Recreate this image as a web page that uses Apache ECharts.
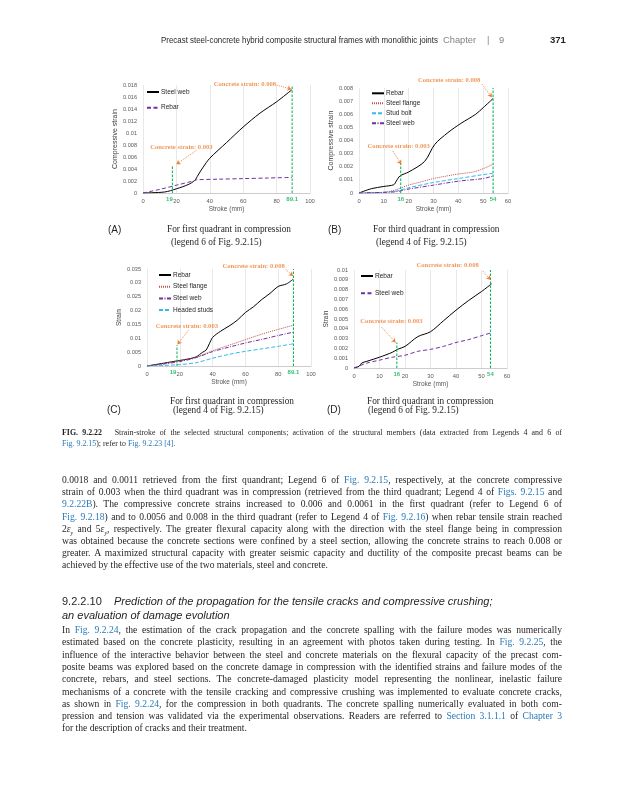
<!DOCTYPE html>
<html><head><meta charset="utf-8">
<script src="https://cdn.jsdelivr.net/npm/echarts/dist/echarts.min.js"></script>
<style>
html,body{margin:0;padding:0;background:#fff;width:625px;height:800px;overflow:hidden;}
#chart{position:absolute;left:0;top:0;width:625px;height:800px;}
.t{position:absolute;white-space:nowrap;color:#231f20;line-height:12px;}
.serif{font-family:"Liberation Serif","Times New Roman",serif;}
.sans{font-family:"Liberation Sans",Arial,sans-serif;}
.ln{position:absolute;left:62px;width:500px;font-family:"Liberation Serif","Times New Roman",serif;font-size:9.6px;line-height:12px;height:12px;text-align:justify;text-align-last:justify;color:#231f20;}
.ln.last{text-align-last:left;}
.cap{font-size:7.9px;}
.lk{color:#2a7ab8;}
</style></head>
<body>
<div id="chart"></div>

<div class="t sans" style="left:161px;top:34px;font-size:9px;transform:scaleX(0.88);transform-origin:left center;">Precast steel-concrete hybrid composite structural frames with monolithic joints</div>
<div class="t sans" style="left:443px;top:34px;font-size:9.3px;color:#808285;">Chapter</div>
<div class="t sans" style="left:487px;top:34px;font-size:9.3px;color:#808285;">|</div>
<div class="t sans" style="left:499px;top:34px;font-size:9.3px;color:#808285;">9</div>
<div class="t sans" style="left:550px;top:34px;font-size:9.5px;font-weight:bold;">371</div>

<div class="t sans" style="left:108px;top:224px;font-size:10px;">(A)</div>
<div class="t serif" style="left:167px;top:223px;font-size:9.3px;">For first quadrant in compression</div>
<div class="t serif" style="left:171px;top:236px;font-size:9.3px;">(legend 6 of Fig. 9.2.15)</div>
<div class="t sans" style="left:328px;top:224px;font-size:10px;">(B)</div>
<div class="t serif" style="left:373px;top:223px;font-size:9.3px;">For third quadrant in compression</div>
<div class="t serif" style="left:376px;top:236px;font-size:9.3px;">(legend 4 of Fig. 9.2.15)</div>

<div class="t serif" style="left:170px;top:395px;font-size:9.3px;">For first quadrant in compression</div>
<div class="t sans" style="left:107px;top:404px;font-size:10px;">(C)</div>
<div class="t serif" style="left:173px;top:404px;font-size:9.3px;">(legend 4 of Fig. 9.2.15)</div>
<div class="t serif" style="left:367px;top:395px;font-size:9.3px;">For third quadrant in compression</div>
<div class="t sans" style="left:327px;top:404px;font-size:10px;">(D)</div>
<div class="t serif" style="left:368px;top:404px;font-size:9.3px;">(legend 6 of Fig. 9.2.15)</div>

<div class="ln cap" style="top:427px;"><b>FIG. 9.2.22</b>&nbsp;&nbsp; Strain-stroke of the selected structural components; activation of the structural members (data extracted from Legends 4 and 6 of</div>
<div class="ln cap last" style="top:438px;"><span class="lk">Fig. 9.2.15</span>); refer to <span class="lk">Fig. 9.2.23</span> <span class="lk">[4]</span>.</div>

<div class="ln" style="top:474px;">0.0018 and 0.0011 retrieved from the first quandrant; Legend 6 of <span class="lk">Fig. 9.2.15</span>, respectively, at the concrete compressive</div>
<div class="ln" style="top:486.2px;">strain of 0.003 when the third quadrant was in compression (retrieved from the third quadrant; Legend 4 of <span class="lk">Figs. 9.2.15</span> and</div>
<div class="ln" style="top:498.4px;"><span class="lk">9.2.22B</span>). The compressive concrete strains increased to 0.006 and 0.0061 in the first quadrant (refer to Legend 6 of</div>
<div class="ln" style="top:510.6px;"><span class="lk">Fig. 9.2.18</span>) and to 0.0056 and 0.008 in the third quadrant (refer to Legend 4 of <span class="lk">Fig. 9.2.16</span>) when rebar tensile strain reached</div>
<div class="ln" style="top:522.8px;">2<i>ε</i><sub style="font-size:6px;line-height:0"><i>y</i></sub> and 5<i>ε</i><sub style="font-size:6px;line-height:0"><i>y</i></sub>, respectively. The greater flexural capacity along with the direction with the steel flange being in compression</div>
<div class="ln" style="top:535px;">was obtained because the concrete sections were confined by a steel section, allowing the concrete strains to reach 0.008 or</div>
<div class="ln" style="top:547.2px;">greater. A maximized structural capacity with greater seismic capacity and ductility of the composite precast beams can be</div>
<div class="ln last" style="top:559.4px;">achieved by the effective use of the two materials, steel and concrete.</div>

<div class="t sans" style="left:62px;top:595px;font-size:11px;"><span>9.2.2.10</span>&nbsp;&nbsp;&nbsp; <i>Prediction of the propagation for the tensile cracks and compressive crushing;</i></div>
<div class="t sans" style="left:62px;top:609px;font-size:11px;"><i>an evaluation of damage evolution</i></div>

<div class="ln" style="top:624px;">In <span class="lk">Fig. 9.2.24</span>, the estimation of the crack propagation and the concrete spalling with the failure modes was numerically</div>
<div class="ln" style="top:636.3px;">estimated based on the concrete plasticity, resulting in an agreement with photos taken during testing. In <span class="lk">Fig. 9.2.25</span>, the</div>
<div class="ln" style="top:648.6px;">influence of the interactive behavior between the steel and concrete materials on the flexural capacity of the precast com-</div>
<div class="ln" style="top:660.9px;">posite beams was explored based on the concrete damage in compression with the identified strains and failure modes of the</div>
<div class="ln" style="top:673.2px;">concrete, rebars, and steel sections. The concrete-damaged plasticity model representing the nonlinear, inelastic failure</div>
<div class="ln" style="top:685.5px;">mechanisms of a concrete with the tensile cracking and compressive crushing was implemented to evaluate concrete cracks,</div>
<div class="ln" style="top:697.8px;">as shown in <span class="lk">Fig. 9.2.24</span>, for the compression in both quadrants. The concrete spalling numerically evaluated in both com-</div>
<div class="ln" style="top:710.1px;">pression and tension was validated via the experimental observations. Readers are referred to <span class="lk">Section 3.1.1.1</span> of <span class="lk">Chapter 3</span></div>
<div class="ln last" style="top:722.4px;">for the description of cracks and their treatment.</div>

<script>
// ================= DATA =================
// Panel A: first quadrant in compression (legend 6)
const aSteelWeb = [[0,0],[13,0.00017],[20,0.0007],[27,0.0014],[31,0.0021],[33,0.003],[36,0.0043],[40,0.0058],[50,0.0084],[60,0.011],[70,0.0133],[80,0.0152],[89.1,0.0172]];
const aRebar    = [[0,0],[10,0.0006],[20,0.0013],[30,0.002],[32,0.0022],[45,0.0023],[60,0.0024],[75,0.0025],[89.1,0.0026]];
// Panel B: third quadrant in compression (legend 4)
const bRebar    = [[0,0],[5,0.00033],[10,0.0005],[14,0.00063],[15,0.0009],[16.5,0.0013],[20,0.0016],[26.4,0.0024],[30.5,0.0037],[35.8,0.0046],[41,0.0053],[47,0.006],[50,0.0065],[54,0.0072]];
const bFlange   = [[0,0],[10,0.00005],[14,0.0002],[17,0.0004],[20,0.0006],[26,0.0009],[30,0.0011],[40,0.00145],[46,0.0016],[50,0.00185],[54,0.0022]];
const bStudBolt = [[0,0],[10,0.00005],[15,0.00015],[20,0.0004],[30,0.0008],[40,0.0011],[50,0.0014],[54,0.0015]];
const bSteelWeb = [[0,0],[10,0.00005],[15,0.0001],[20,0.0003],[30,0.0006],[40,0.0009],[50,0.0011],[54,0.0013]];
// Panel C: first quadrant in compression (legend 4)
const cRebar    = [[0,0],[10,0.001],[20,0.002],[25,0.0025],[30,0.0033],[34,0.005],[36,0.0057],[38,0.008],[40,0.0103],[45,0.0126],[50,0.0144],[55,0.0165],[60,0.0193],[65,0.0214],[70,0.024],[75,0.0262],[80,0.0287],[85,0.0296],[89.1,0.0313]];
const cFlange   = [[0,0],[10,0.0008],[20,0.002],[30,0.0032],[40,0.0055],[50,0.0075],[60,0.0095],[70,0.0115],[80,0.0132],[89.1,0.0147]];
const cSteelWeb = [[0,0],[10,0.0007],[20,0.0016],[30,0.003],[40,0.0052],[50,0.0068],[60,0.0083],[70,0.0096],[80,0.011],[89.1,0.0122]];
const cStuds    = [[0,0],[10,0.0002],[20,0.0005],[30,0.0012],[40,0.0028],[50,0.0042],[60,0.0053],[70,0.0062],[80,0.0071],[89.1,0.008]];
// Panel D: third quadrant in compression (legend 6)
const dRebar    = [[0,0],[2,0.00017],[3,0.0005],[5,0.00068],[10,0.0011],[15,0.0016],[17,0.0019],[20,0.0022],[25,0.0032],[30,0.0037],[35,0.0048],[40,0.0059],[45,0.0069],[50,0.0078],[54,0.0086]];
const dSteelWeb = [[0,0],[5,0.0005],[10,0.0008],[15,0.0011],[20,0.0013],[25,0.0017],[30,0.0019],[35,0.0022],[40,0.0026],[45,0.0029],[50,0.0033],[54,0.0036]];

// Axis ranges / ticks
const xMax = [100, 60, 100, 60];
const xStep = [20, 10, 20, 10];
const yMax = [0.018, 0.008, 0.035, 0.01];
const yStep = [0.002, 0.001, 0.005, 0.001];
const yTitles = ['Compressive strain', 'Compressive strain', 'Strain', 'Strain'];
const xTitle = 'Stroke (mm)';

// Stroke at concrete strain 0.003 / 0.008 (green marker lines)
const markX    = [[17.6, 89.3], [16.8, 54], [18.3, 89.3], [16.8, 53.5]];
const markTop  = [[0.0046, 0.018], [0.0023, 0.008], [0.0075, 0.035], [0.0026, 0.01]];
const markText = [['19', '89.1'], ['16', '54'], ['19', '89.1'], ['16', '54']];

// Annotation texts (centre points) and arrows
const annoText = ['Concrete strain: 0.003', 'Concrete strain: 0.008'];
const annoPos  = [[[23, 0.0077], [61, 0.0181]], [[16, 0.00355], [36.3, 0.00856]], [[24.3, 0.0144], [65, 0.0361]], [[14.7, 0.00474], [36.7, 0.0105]]];
const annoArrow = [
  [[[32, 0.0071], [20, 0.0048]], [[80, 0.018], [88.8, 0.0173]]],
  [[[13.6, 0.0032], [17, 0.0022]], [[49.5, 0.0083], [53.5, 0.0073]]],
  [[[25.3, 0.0129], [18.6, 0.0078]], [[84.5, 0.0349], [89, 0.0325]]],
  [[[10.7, 0.0042], [16.3, 0.0026]], [[50.5, 0.0099], [53.5, 0.009]]]
];

// ================= CHART =================
const FONT = '"Liberation Sans", Arial, sans-serif';
const SERIF = '"Liberation Serif", "Times New Roman", serif';
const GREEN = '#00B050', ORANGE = '#ED7D31';
const grids = [
  {left: 143, top: 85, width: 167, height: 108},
  {left: 359, top: 88, width: 149, height: 105},
  {left: 147, top: 269, width: 164, height: 97},
  {left: 354, top: 270, width: 153, height: 98}
];
const nameGaps = [24, 24, 22, 24];
const markLabelShift = [[-3, 0], [0, 0], [-4, 0], [0, 0]];

const styles = {
  black:   {color: '#000000', type: 'solid', width: 1},
  purpleD: {color: '#7030A0', type: [4, 2.5], width: 1},
  red:     {color: '#C0504D', type: [1, 1], width: 1},
  cyan:    {color: '#33B8F0', type: [4, 2], width: 1},
  purpleDD:{color: '#7030A0', type: [4, 1.5, 1, 1.5], width: 1}
};

const panels = [
  [['Steel web', aSteelWeb, 'black'], ['Rebar', aRebar, 'purpleD']],
  [['Rebar', bRebar, 'black'], ['Steel flange', bFlange, 'red'], ['Stud bolt', bStudBolt, 'cyan'], ['Steel web', bSteelWeb, 'purpleDD']],
  [['Rebar', cRebar, 'black'], ['Steel flange', cFlange, 'red'], ['Steel web', cSteelWeb, 'purpleDD'], ['Headed studs', cStuds, 'cyan']],
  [['Rebar', dRebar, 'black'], ['Steel web', dSteelWeb, 'purpleD']]
];
const legendPos = [
  {left: 146, top: 88.5, gap: 8.7},
  {left: 371, top: 89.8, gap: 3},
  {left: 158, top: 271.5, gap: 4.7},
  {left: 360, top: 272.5, gap: 10.3}
];

const option = {
  animation: false,
  backgroundColor: 'transparent',
  grid: grids,
  xAxis: [], yAxis: [], series: [], legend: []
};

grids.forEach((g, i) => {
  option.xAxis.push({
    type: 'value', gridIndex: i, min: 0, max: xMax[i], interval: xStep[i],
    name: xTitle, nameLocation: 'middle', nameGap: 13,
    nameTextStyle: {fontFamily: FONT, fontSize: 6.5, color: '#595959'},
    axisLine: {show: true, lineStyle: {color: '#bfbfbf', width: 0.8}},
    axisTick: {show: false},
    axisLabel: {fontFamily: FONT, fontSize: 5.8, color: '#595959', margin: 5},
    splitLine: {show: true, lineStyle: {color: '#d9d9d9', width: 0.6}}
  });
  option.yAxis.push({
    type: 'value', gridIndex: i, min: 0, max: yMax[i], interval: yStep[i],
    name: yTitles[i], nameLocation: 'middle', nameGap: nameGaps[i],
    nameTextStyle: {fontFamily: FONT, fontSize: i < 2 ? 7 : 6.5, color: '#404040'},
    axisLine: {show: false}, axisTick: {show: false},
    axisLabel: {fontFamily: FONT, fontSize: 5.6, color: '#595959', margin: 6},
    splitLine: {show: false}
  });
  const names = [];
  panels[i].forEach(([nm, data, st]) => {
    const full = i + '|' + nm;
    names.push(full);
    const s = styles[st];
    option.series.push({
      name: full, type: 'line', xAxisIndex: i, yAxisIndex: i, data: data,
      showSymbol: false, symbol: 'none', smooth: 0.3, z: 3,
      lineStyle: {color: s.color, type: s.type, width: s.width},
      itemStyle: {color: s.color}
    });
  });
  option.legend.push({
    data: names, orient: 'vertical', left: legendPos[i].left, top: legendPos[i].top,
    itemGap: legendPos[i].gap, itemWidth: 12, itemHeight: 7, padding: 0,
    selectedMode: false,
    itemStyle: {opacity: 0, borderWidth: 0},
    formatter: n => n.split('|')[1],
    textStyle: {fontFamily: FONT, fontSize: 6.5, color: '#262626', lineHeight: 7, padding: [0, 0, 0, -3]}
  });
  // green marker lines
  markX[i].forEach((mx, k) => {
    option.series.push({
      type: 'line', xAxisIndex: i, yAxisIndex: i, silent: true, clip: false,
      data: [[mx, 0], [mx, markTop[i][k]]], showSymbol: false, symbol: 'none', z: 4,
      lineStyle: {color: GREEN, type: [2.5, 1.5], width: 1}
    });
  });
  option.series.push({
    type: 'scatter', xAxisIndex: i, yAxisIndex: i, silent: true, clip: false, symbolSize: 0, z: 6,
    data: markX[i].map((mx, k) => ({value: [mx, 0, markText[i][k]], label: {offset: k === 0 ? markLabelShift[i] : [0, 0]}})),
    label: {show: true, position: 'bottom', distance: 3, formatter: p => p.value[2],
      fontFamily: FONT, fontSize: 6, fontWeight: 'bold', color: GREEN}
  });
  // annotation texts
  option.series.push({
    type: 'scatter', xAxisIndex: i, yAxisIndex: i, silent: true, clip: false, symbolSize: 0, z: 6,
    data: annoPos[i].map((p, k) => [p[0], p[1], annoText[k]]),
    label: {show: true, position: [0, 0], align: 'center', verticalAlign: 'middle', formatter: p => p.data[2],
      fontFamily: SERIF, fontSize: 6.6, fontWeight: 'bold', color: ORANGE}
  });
  // annotation arrows
  option.series.push({
    type: 'lines', coordinateSystem: 'cartesian2d', xAxisIndex: i, yAxisIndex: i, silent: true, clip: false, z: 5,
    symbol: ['none', 'arrow'], symbolSize: 4,
    data: annoArrow[i].map(a => ({coords: a})),
    lineStyle: {color: ORANGE, type: [1.2, 1], width: 0.8, opacity: 1, curveness: 0}
  });
});

const chart = echarts.init(document.getElementById('chart'), null, {renderer: 'canvas'});
chart.setOption(option);
</script>
</body></html>
